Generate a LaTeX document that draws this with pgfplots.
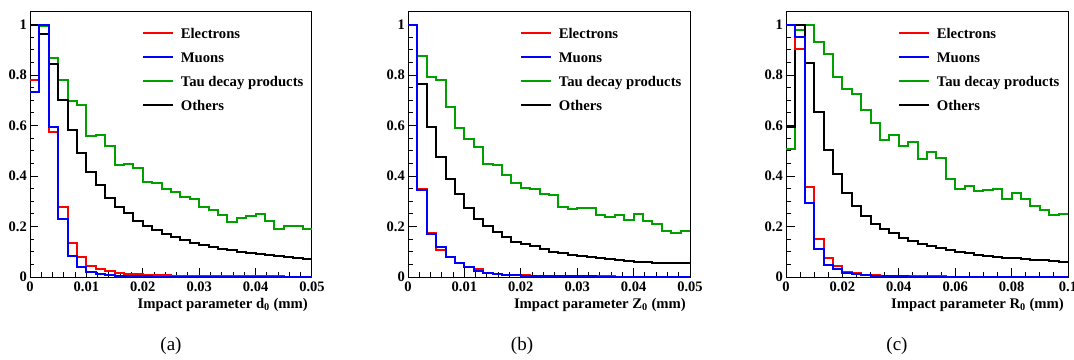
\documentclass[border=0pt]{standalone}
\usepackage{pgfplots}
\pgfplotsset{compat=1.18}
\usepackage{pgfplotstable}
\usepackage{fontspec}
\setmainfont{Liberation Serif}
\definecolor{rootgreen}{RGB}{0,160,0}

\pgfplotstableread{
bin e mu tau oth
0 0.780 0.734 1.000 1.000
1 1.000 1.000 0.996 0.963
2 0.575 0.596 0.867 0.843
3 0.276 0.229 0.780 0.700
4 0.136 0.083 0.696 0.582
5 0.081 0.038 0.681 0.491
6 0.044 0.020 0.560 0.418
7 0.033 0.012 0.561 0.364
8 0.025 0.007 0.520 0.313
9 0.017 0.004 0.442 0.279
10 0.012 0.003 0.447 0.253
11 0.010 0.002 0.433 0.222
12 0.008 0.002 0.378 0.203
13 0.007 0.001 0.372 0.187
14 0.006 0.001 0.348 0.171
15 0.005 0.001 0.336 0.157
16 0.005 0.001 0.315 0.147
17 0.004 0.001 0.310 0.136
18 0.004 0.001 0.279 0.127
19 0.003 0.001 0.266 0.120
20 0.003 0.001 0.246 0.112
21 0.003 0.000 0.217 0.107
22 0.002 0.000 0.235 0.100
23 0.002 0.000 0.243 0.096
24 0.002 0.000 0.250 0.090
25 0.002 0.000 0.223 0.086
26 0.002 0.000 0.189 0.082
27 0.001 0.000 0.204 0.078
28 0.001 0.000 0.204 0.074
29 0.001 0.000 0.190 0.071
30 0.001 0.000 0.190 0.071
}\tabA

\pgfplotstableread{
bin e mu tau oth
0 1.000 1.000 1.000 1.000
1 0.350 0.345 0.874 0.766
2 0.176 0.171 0.791 0.596
3 0.108 0.120 0.780 0.477
4 0.080 0.080 0.672 0.390
5 0.054 0.054 0.592 0.327
6 0.038 0.038 0.546 0.272
7 0.030 0.025 0.516 0.231
8 0.017 0.016 0.447 0.202
9 0.012 0.011 0.445 0.179
10 0.009 0.008 0.405 0.157
11 0.007 0.006 0.372 0.140
12 0.006 0.005 0.352 0.130
13 0.005 0.004 0.348 0.122
14 0.004 0.003 0.329 0.110
15 0.004 0.003 0.323 0.100
16 0.003 0.002 0.277 0.094
17 0.003 0.002 0.270 0.089
18 0.002 0.002 0.272 0.083
19 0.002 0.002 0.272 0.079
20 0.002 0.001 0.246 0.074
21 0.002 0.001 0.239 0.070
22 0.001 0.001 0.247 0.066
23 0.001 0.001 0.226 0.063
24 0.001 0.001 0.249 0.061
25 0.001 0.001 0.221 0.059
26 0.001 0.001 0.209 0.057
27 0.001 0.001 0.184 0.056
28 0.001 0.001 0.176 0.055
29 0.001 0.001 0.184 0.054
30 0.001 0.001 0.184 0.054
}\tabB

\pgfplotstableread{
bin e mu tau oth
0 1.000 1.000 0.509 0.596
1 0.905 0.950 0.980 1.000
2 0.355 0.292 1.000 0.849
3 0.151 0.111 0.931 0.652
4 0.074 0.046 0.884 0.503
5 0.044 0.030 0.794 0.407
6 0.020 0.015 0.745 0.332
7 0.015 0.010 0.726 0.282
8 0.009 0.006 0.663 0.242
9 0.006 0.004 0.612 0.210
10 0.005 0.003 0.544 0.190
11 0.004 0.002 0.561 0.173
12 0.003 0.002 0.520 0.156
13 0.003 0.001 0.533 0.144
14 0.002 0.001 0.467 0.132
15 0.002 0.001 0.497 0.123
16 0.002 0.001 0.471 0.115
17 0.001 0.001 0.388 0.107
18 0.001 0.001 0.349 0.099
19 0.001 0.000 0.362 0.094
20 0.001 0.000 0.341 0.089
21 0.001 0.000 0.345 0.085
22 0.001 0.000 0.349 0.081
23 0.001 0.000 0.310 0.077
24 0.001 0.000 0.332 0.074
25 0.001 0.000 0.310 0.071
26 0.001 0.000 0.282 0.069
27 0.001 0.000 0.266 0.066
28 0.001 0.000 0.247 0.063
29 0.001 0.000 0.251 0.060
30 0.001 0.000 0.251 0.060
}\tabC

\pgfplotsset{
  rootaxis/.style={
    scale only axis, width=282pt, height=265pt, anchor=south west,
    xmin=0, xmax=30, ymin=0, ymax=1.05,
    ytick={0,0.2,0.4,0.6,0.8,1}, yticklabels={0,0.2,0.4,0.6,0.8,1},
    minor y tick num=3,
    xtick={0,6,12,18,24,30},
    tick align=inside, xtick pos=bottom, ytick pos=left,
    major tick length=8.5pt, minor tick length=4.5pt,
    every tick/.style={black, line width=1pt},
    axis line style={line width=1pt},
    ticklabel style={font=\bfseries\fontsize{14.5}{14.5}\selectfont},
    yticklabel style={inner sep=0pt, xshift=-3pt},
    xticklabel style={inner sep=0pt, yshift=-4.5pt},
    xlabel style={at={(rel axis cs:1,0)}, anchor=base east, yshift=-31pt, xshift=-4pt,
      font=\bfseries\fontsize{14.7}{14.7}\selectfont, inner sep=0pt},
    legend style={at={(rel axis cs:0.398,0.936)}, anchor=north west, draw=none, fill=none,
      inner sep=0pt, outer sep=0pt, font=\bfseries\fontsize{14.7}{14.7}\selectfont,
      row sep=11pt, column sep=6.6pt,
      nodes={inner sep=0pt, text height=10pt, text depth=3pt}},
    legend cell align=left,
    legend image code/.code={\draw[##1] (0pt,2pt) -- (30pt,2pt);},
  },
}

\begin{document}
\begin{tikzpicture}
\useasboundingbox (0,0) rectangle (1074pt,359pt);

% (a)
\begin{axis}[rootaxis, at={(30pt,82pt)},
  xticklabels={0,0.01,0.02,0.03,0.04,0.05}, minor x tick num=4,
  xlabel={Impact parameter d\textsubscript{0} (mm)}]
\addlegendimage{draw=red, line width=2pt}\addlegendentry{Electrons}
\addlegendimage{draw=blue, line width=2pt}\addlegendentry{Muons}
\addlegendimage{draw=rootgreen, line width=2pt}\addlegendentry{Tau decay products}
\addlegendimage{draw=black, line width=2pt}\addlegendentry{Others}
\addplot[forget plot, const plot mark left, no marks, line width=2pt, draw=rootgreen] table[x=bin, y=tau] {\tabA};
\addplot[forget plot, const plot mark left, no marks, line width=2pt, draw=black] table[x=bin, y=oth] {\tabA};
\addplot[forget plot, const plot mark left, no marks, line width=2pt, draw=red] table[x=bin, y=e] {\tabA};
\addplot[forget plot, const plot mark left, no marks, line width=2pt, draw=blue] table[x=bin, y=mu] {\tabA};
\end{axis}

% (b)
\begin{axis}[rootaxis, at={(408pt,82pt)},
  xticklabels={0,0.01,0.02,0.03,0.04,0.05}, minor x tick num=4,
  xlabel={Impact parameter Z\textsubscript{0} (mm)}]
\addlegendimage{draw=red, line width=2pt}\addlegendentry{Electrons}
\addlegendimage{draw=blue, line width=2pt}\addlegendentry{Muons}
\addlegendimage{draw=rootgreen, line width=2pt}\addlegendentry{Tau decay products}
\addlegendimage{draw=black, line width=2pt}\addlegendentry{Others}
\addplot[forget plot, const plot mark left, no marks, line width=2pt, draw=rootgreen] table[x=bin, y=tau] {\tabB};
\addplot[forget plot, const plot mark left, no marks, line width=2pt, draw=black] table[x=bin, y=oth] {\tabB};
\addplot[forget plot, const plot mark left, no marks, line width=2pt, draw=red] table[x=bin, y=e] {\tabB};
\addplot[forget plot, const plot mark left, no marks, line width=2pt, draw=blue] table[x=bin, y=mu] {\tabB};
\end{axis}

% (c)
\begin{axis}[rootaxis, at={(786pt,82pt)},
  xticklabels={0,0.02,0.04,0.06,0.08,0.1}, minor x tick num=3,
  xlabel={Impact parameter R\textsubscript{0} (mm)}]
\addlegendimage{draw=red, line width=2pt}\addlegendentry{Electrons}
\addlegendimage{draw=blue, line width=2pt}\addlegendentry{Muons}
\addlegendimage{draw=rootgreen, line width=2pt}\addlegendentry{Tau decay products}
\addlegendimage{draw=black, line width=2pt}\addlegendentry{Others}
\addplot[forget plot, const plot mark left, no marks, line width=2pt, draw=rootgreen] table[x=bin, y=tau] {\tabC};
\addplot[forget plot, const plot mark left, no marks, line width=2pt, draw=black] table[x=bin, y=oth] {\tabC};
\addplot[forget plot, const plot mark left, no marks, line width=2pt, draw=red] table[x=bin, y=e] {\tabC};
\addplot[forget plot, const plot mark left, no marks, line width=2pt, draw=blue] table[x=bin, y=mu] {\tabC};
\end{axis}

\node[font=\fontsize{19}{19}\selectfont] at (171pt,13pt) {(a)};
\node[font=\fontsize{19}{19}\selectfont] at (522pt,13pt) {(b)};
\node[font=\fontsize{19}{19}\selectfont] at (897pt,13pt) {(c)};
\end{tikzpicture}
\end{document}
